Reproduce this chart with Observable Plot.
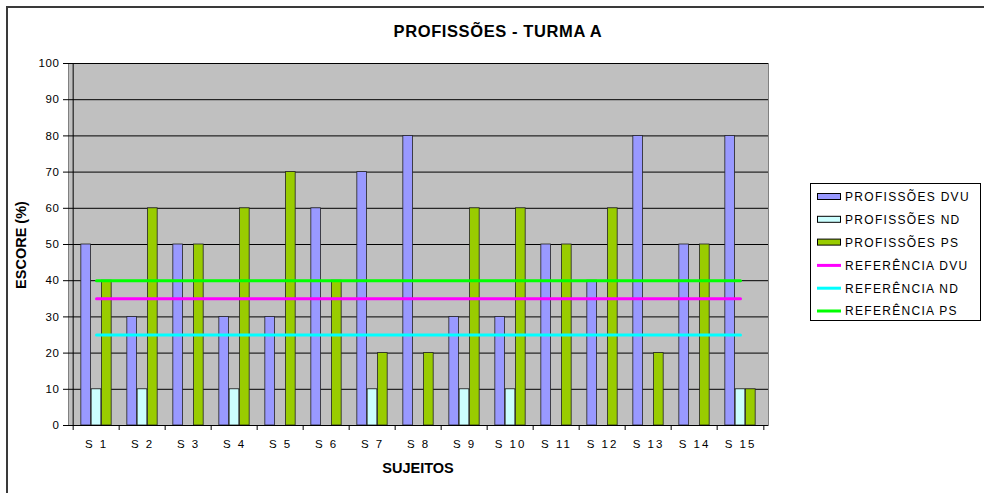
<!DOCTYPE html>
<html><head><meta charset="utf-8">
<script src="https://cdn.jsdelivr.net/npm/d3@7"></script>
<script src="https://cdn.jsdelivr.net/npm/@observablehq/plot@0.6"></script>
<style>
body{margin:0;background:#fff;}
svg{display:block;}
</style>
</head><body><div id="chart"></div>
<script>
// ---- data ----
const subjects = ["S 1","S 2","S 3","S 4","S 5","S 6","S 7","S 8","S 9","S 10","S 11","S 12","S 13","S 14","S 15"];
const profDVU = [50,30,50,30,30,60,70,80,30,30,50,40,80,50,80];
const profND  = [10,10,0,10,0,0,10,0,10,10,0,0,0,0,10];
const profPS  = [40,60,50,60,70,40,20,20,60,60,50,60,20,50,10];
const refDVU = 35;
const refND = 25;
const refPS = 40;
const yTicks = [0,10,20,30,40,50,60,70,80,90,100];
const titleText = "PROFISSÕES - TURMA A";
const xLabel = "SUJEITOS";
const yLabel = "ESCORE (%)";
const legendNames = ["PROFISSÕES DVU","PROFISSÕES ND","PROFISSÕES PS","REFERÊNCIA DVU","REFERÊNCIA ND","REFERÊNCIA PS"];

// ---- layout / style ----
const W = 984, H = 493;
const mL = 68, mR = 216, mT = 63, mB = 68;
const bw = (W - mL - mR) / subjects.length;
const barW = bw * 0.2214;
const inset = (bw - barW) / 2;
const colDVU = "#9999FF", colND = "#CCFFFF", colPS = "#99CC00";
const colRefDVU = "#FF00FF", colRefND = "#00FFFF", colRefPS = "#00FF00";
const font = "'Liberation Sans', Arial, sans-serif";

const rows = subjects.map((s, i) => ({s, dvu: profDVU[i], nd: profND[i], ps: profPS[i]}));
const barOpts = (key, fill, dx) => ({
  x: "s", y: key, fill, stroke: "#222", strokeWidth: 0.8,
  insetLeft: inset, insetRight: inset, dx
});

const chart = Plot.plot({
  width: W, height: H,
  marginLeft: mL, marginRight: mR, marginTop: mT, marginBottom: mB,
  style: {fontFamily: font, background: "transparent", color: "#000"},
  x: {domain: subjects, padding: 0, label: null},
  y: {domain: [0, 100], label: null},
  marks: [
    Plot.frame({fill: "#C0C0C0", stroke: "#808080"}),
    Plot.gridY(yTicks.filter(d => d > 0), {stroke: "#000", strokeOpacity: 1, strokeWidth: 1}),
    Plot.barY(rows.filter(d => d.dvu > 0), barOpts("dvu", colDVU, -barW)),
    Plot.barY(rows.filter(d => d.nd > 0), barOpts("nd", colND, 0)),
    Plot.barY(rows.filter(d => d.ps > 0), barOpts("ps", colPS, barW)),
    Plot.lineY(subjects, {x: d => d, y: () => refDVU, stroke: colRefDVU, strokeWidth: 3}),
    Plot.lineY(subjects, {x: d => d, y: () => refND, stroke: colRefND, strokeWidth: 3}),
    Plot.lineY(subjects, {x: d => d, y: () => refPS, stroke: colRefPS, strokeWidth: 3}),
    Plot.ruleY([0], {stroke: "#000"}),
    Plot.ruleX(subjects, {x: d => d, dx: -bw / 2, y1: 0, y2: 0, insetBottom: -5, stroke: "#000"}),
    Plot.ruleX([subjects[subjects.length - 1]], {x: d => d, dx: bw / 2, y1: 0, y2: 0, insetBottom: -5, stroke: "#000"}),
    Plot.axisY({ticks: yTicks, tickSize: 5, tickPadding: 4, fontSize: 11.5, label: null, stroke: "#000"}),
    Plot.ruleX([0], {x: () => subjects[0], dx: -bw / 2, y1: 0, y2: 100, stroke: "#000"}),
    Plot.axisX({tickSize: 0, tickPadding: 14, fontSize: 11.5, label: null})
  ]
});

const svg = d3.select(chart);
svg.selectAll('[aria-label="x-axis tick label"] text').attr("letter-spacing", "2px");
svg.selectAll('[aria-label="y-axis tick label"] text').attr("letter-spacing", "0.6px");

// outer chart frame (cut by the window on right and bottom)
svg.insert("rect", ":first-child")
  .attr("x", 7).attr("y", 7).attr("width", W).attr("height", H)
  .attr("fill", "#fff").attr("stroke", "#3a3a3a").attr("stroke-width", 2);

// title
svg.append("text").attr("x", 498).attr("y", 37).attr("text-anchor", "middle")
  .attr("font-size", 16.5).attr("font-weight", "bold").attr("letter-spacing", "0.6px")
  .attr("font-family", font).text(titleText);
// axis titles
svg.append("text").attr("x", 418).attr("y", 473).attr("text-anchor", "middle")
  .attr("font-size", 14.5).attr("font-weight", "bold").attr("font-family", font).text(xLabel);
svg.append("text").attr("transform", "translate(26,245) rotate(-90)").attr("text-anchor", "middle")
  .attr("font-size", 14.5).attr("font-weight", "bold").attr("font-family", font).text(yLabel);

// legend
const lg = svg.append("g").attr("text-anchor", "start");
lg.append("rect").attr("x", 810.5).attr("y", 183.5).attr("width", 170).attr("height", 137)
  .attr("fill", "#fff").attr("stroke", "#000");
const kinds = [
  {t: "bar", c: colDVU}, {t: "bar", c: colND}, {t: "bar", c: colPS},
  {t: "line", c: colRefDVU}, {t: "line", c: colRefND}, {t: "line", c: colRefPS}
];
kinds.forEach((k, i) => {
  const cy = 197 + i * 22.8;
  if (k.t === "bar") {
    lg.append("rect").attr("x", 817.5).attr("y", cy - 3.5).attr("width", 23).attr("height", 6)
      .attr("fill", k.c).attr("stroke", "#000").attr("stroke-width", 1);
  } else {
    lg.append("line").attr("x1", 817).attr("x2", 841).attr("y1", cy).attr("y2", cy)
      .attr("stroke", k.c).attr("stroke-width", 3);
  }
  lg.append("text").attr("x", 845).attr("y", cy + 4.3).attr("font-size", 12)
    .attr("text-anchor", "start")
    .attr("letter-spacing", "1.3px").attr("font-family", font).text(legendNames[i]);
});

document.getElementById("chart").appendChild(chart);
</script>
</body></html>
